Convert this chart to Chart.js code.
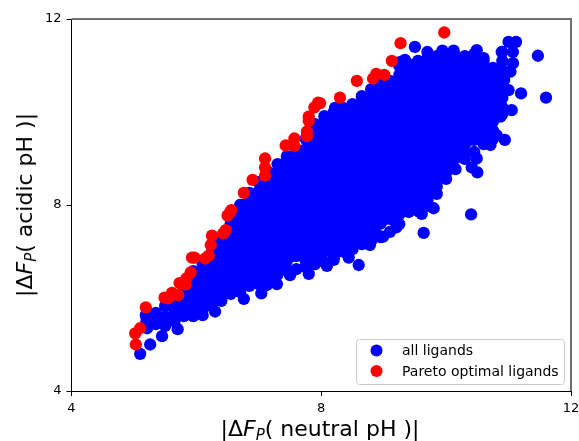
<!DOCTYPE html>
<html>
<head>
<meta charset="utf-8">
<title>Pareto optimal ligands</title>
<script src="https://cdn.jsdelivr.net/npm/chart.js@4"></script>
<style>
  html, body { margin: 0; padding: 0; background: #fff; }
  #wrap { position: relative; width: 579px; height: 441px; overflow: hidden; }
  canvas { position: absolute; left: 0; top: 0; }
  .axis-title { position: absolute; font-family: "DejaVu Sans"; font-size: 22px; line-height: 26px; white-space: nowrap; color: #000; }
  .axis-title sub { font-size: 15px; font-style: italic; line-height: 0; vertical-align: -4px; }
  #xTitle { left: 320px; top: 416px; transform: translateX(-50%); }
  #yTitle { left: 25px; top: 205px; transform: translate(-50%, -50%) rotate(-90deg); }
</style>
</head>
<body>
<div id="wrap">
  <canvas id="toolChart" width="579" height="441"></canvas>
  <div class="axis-title" id="xTitle">|Δ<i>F</i><sub>P</sub>( neutral pH )|</div>
  <div class="axis-title" id="yTitle">|Δ<i>F</i><sub>P</sub>( acidic pH )|</div>
</div>
<script>
// values: the dense cloud is kept as columns of y values
const cloudX = [5.2, 5.35, 5.5, 5.65, 5.8, 5.95, 6.1, 6.25, 6.4, 6.55, 6.7, 6.85, 7.0, 7.15, 7.3, 7.45, 7.6, 7.75, 7.9, 8.05, 8.2, 8.35, 8.5, 8.65, 8.8, 8.95, 9.1, 9.25, 9.4, 9.55, 9.7, 9.85, 10.0, 10.15, 10.3, 10.45, 10.6, 10.75, 10.9];
const cloudY = [
  [5.5],
  [5.44, 5.56, 5.68],
  [5.4, 5.6, 5.83],
  [5.5, 5.7, 5.85, 5.98],
  [5.61, 5.8, 6.0, 6.15],
  [5.7, 5.9, 6.1, 6.3, 6.45, 6.58],
  [5.74, 5.9, 6.1, 6.3, 6.5, 6.73],
  [5.83, 6.0, 6.2, 6.4, 6.6, 6.8, 7.0, 7.16],
  [5.94, 6.1, 6.3, 6.5, 6.7, 6.9, 7.1, 7.29],
  [6.09, 6.2, 6.4, 6.6, 6.8, 7.0, 7.2, 7.4, 7.6, 7.72],
  [6.13, 6.3, 6.5, 6.7, 6.9, 7.1, 7.3, 7.5, 7.7, 7.9, 8.0],
  [6.26, 6.4, 6.6, 6.8, 7.0, 7.2, 7.4, 7.6, 7.8, 8.0, 8.2, 8.26],
  [6.3, 6.5, 6.7, 6.9, 7.1, 7.3, 7.5, 7.7, 7.9, 8.1, 8.3, 8.49],
  [6.41, 6.6, 6.8, 7.0, 7.2, 7.4, 7.6, 7.8, 8.0, 8.2, 8.4, 8.6, 8.71],
  [6.5, 6.7, 6.9, 7.1, 7.3, 7.5, 7.7, 7.9, 8.1, 8.3, 8.5, 8.7, 8.88],
  [6.6, 6.8, 7.0, 7.2, 7.4, 7.6, 7.8, 8.0, 8.2, 8.4, 8.6, 8.8, 9.0, 9.05],
  [6.62, 6.9, 7.1, 7.3, 7.5, 7.7, 7.9, 8.1, 8.3, 8.5, 8.7, 8.9, 9.1, 9.2],
  [6.67, 6.8, 7.0, 7.2, 7.4, 7.6, 7.8, 8.0, 8.2, 8.4, 8.6, 8.8, 9.0, 9.2, 9.42],
  [6.73, 6.9, 7.1, 7.3, 7.5, 7.7, 7.9, 8.1, 8.3, 8.5, 8.7, 8.9, 9.1, 9.3, 9.5, 9.74],
  [6.77, 7.0, 7.2, 7.4, 7.6, 7.8, 8.0, 8.2, 8.4, 8.6, 8.8, 9.0, 9.2, 9.4, 9.6, 9.8, 9.91],
  [6.82, 6.9, 7.1, 7.3, 7.5, 7.7, 7.9, 8.1, 8.3, 8.5, 8.7, 8.9, 9.1, 9.3, 9.5, 9.7, 9.9, 10.0],
  [7.0, 7.2, 7.4, 7.6, 7.8, 8.0, 8.2, 8.4, 8.6, 8.8, 9.0, 9.2, 9.4, 9.6, 9.8, 10.0, 10.09],
  [7.05, 7.3, 7.5, 7.7, 7.9, 8.1, 8.3, 8.5, 8.7, 8.9, 9.1, 9.3, 9.5, 9.7, 9.9, 10.1, 10.17],
  [7.16, 7.4, 7.6, 7.8, 8.0, 8.2, 8.4, 8.6, 8.8, 9.0, 9.2, 9.4, 9.6, 9.8, 10.0, 10.2, 10.34],
  [7.23, 7.5, 7.7, 7.9, 8.1, 8.3, 8.5, 8.7, 8.9, 9.1, 9.3, 9.5, 9.7, 9.9, 10.1, 10.3, 10.49],
  [7.31, 7.6, 7.8, 8.0, 8.2, 8.4, 8.6, 8.8, 9.0, 9.2, 9.4, 9.6, 9.8, 10.0, 10.2, 10.4, 10.6],
  [7.42, 7.7, 7.9, 8.1, 8.3, 8.5, 8.7, 8.9, 9.1, 9.3, 9.5, 9.7, 9.9, 10.1, 10.3, 10.5, 10.67],
  [7.59, 7.8, 8.0, 8.2, 8.4, 8.6, 8.8, 9.0, 9.2, 9.4, 9.6, 9.8, 10.0, 10.2, 10.4, 10.6, 10.8, 10.99],
  [7.85, 8.1, 8.3, 8.5, 8.7, 8.9, 9.1, 9.3, 9.5, 9.7, 9.9, 10.1, 10.3, 10.5, 10.7, 10.9, 11.03],
  [7.87, 8.0, 8.2, 8.4, 8.6, 8.8, 9.0, 9.2, 9.4, 9.6, 9.8, 10.0, 10.2, 10.4, 10.6, 10.8, 11.0, 11.1],
  [7.98, 8.1, 8.3, 8.5, 8.7, 8.9, 9.1, 9.3, 9.5, 9.7, 9.9, 10.1, 10.3, 10.5, 10.7, 10.9, 11.1, 11.16],
  [8.24, 8.4, 8.6, 8.8, 9.0, 9.2, 9.4, 9.6, 9.8, 10.0, 10.2, 10.4, 10.6, 10.8, 11.0, 11.2],
  [8.56, 8.7, 8.9, 9.1, 9.3, 9.5, 9.7, 9.9, 10.1, 10.3, 10.5, 10.7, 10.9, 11.1, 11.2],
  [8.77, 9.0, 9.2, 9.4, 9.6, 9.8, 10.0, 10.2, 10.4, 10.6, 10.8, 11.0, 11.2],
  [8.99, 9.1, 9.3, 9.5, 9.7, 9.9, 10.1, 10.3, 10.5, 10.7, 10.9, 11.1, 11.2],
  [9.14, 9.4, 9.6, 9.8, 10.0, 10.2, 10.4, 10.6, 10.8, 11.0, 11.2, 11.25],
  [9.31, 9.5, 9.7, 9.9, 10.1, 10.3, 10.5, 10.7, 10.9, 11.1, 11.16],
  [9.42, 9.6, 9.8, 10.0, 10.2, 10.4, 10.6, 10.8, 10.95],
  [9.96, 10.1, 10.3, 10.5, 10.7, 10.9, 11.1, 11.29]
];

// more of the cloud, between the columns above
const denseX = [5.875, 6.025, 6.175, 6.325, 6.475, 6.625, 6.775, 6.925, 7.075, 7.225, 7.375, 7.525, 7.675, 7.825, 7.975, 8.125, 8.275, 8.425, 8.575, 8.725, 8.875, 9.025, 9.175, 9.325, 9.475, 9.625, 9.775, 9.925, 10.075, 10.225, 10.375, 10.525, 10.675, 10.825];
const denseY = [
  [5.9, 6.1, 6.3],
  [5.9, 6.1, 6.3, 6.5],
  [6.0, 6.2, 6.4, 6.6, 6.8],
  [6.1, 6.3, 6.5, 6.7, 6.9, 7.1],
  [6.2, 6.4, 6.6, 6.8, 7.0, 7.2, 7.4],
  [6.3, 6.5, 6.7, 6.9, 7.1, 7.3, 7.5, 7.7],
  [6.4, 6.6, 6.8, 7.0, 7.2, 7.4, 7.6, 7.8, 8.0],
  [6.5, 6.7, 6.9, 7.1, 7.3, 7.5, 7.7, 7.9, 8.1],
  [6.6, 6.8, 7.0, 7.2, 7.4, 7.6, 7.8, 8.0, 8.2, 8.4],
  [6.7, 6.9, 7.1, 7.3, 7.5, 7.7, 7.9, 8.1, 8.3, 8.5],
  [6.8, 7.0, 7.2, 7.4, 7.6, 7.8, 8.0, 8.2, 8.4, 8.6, 8.8],
  [6.9, 7.1, 7.3, 7.5, 7.7, 7.9, 8.1, 8.3, 8.5, 8.7, 8.9],
  [7.0, 7.2, 7.4, 7.6, 7.8, 8.0, 8.2, 8.4, 8.6, 8.8, 9.0],
  [6.9, 7.1, 7.3, 7.5, 7.7, 7.9, 8.1, 8.3, 8.5, 8.7, 8.9, 9.1, 9.3],
  [7.0, 7.2, 7.4, 7.6, 7.8, 8.0, 8.2, 8.4, 8.6, 8.8, 9.0, 9.2, 9.4, 9.6],
  [7.1, 7.3, 7.5, 7.7, 7.9, 8.1, 8.3, 8.5, 8.7, 8.9, 9.1, 9.3, 9.5, 9.7],
  [7.0, 7.2, 7.4, 7.6, 7.8, 8.0, 8.2, 8.4, 8.6, 8.8, 9.0, 9.2, 9.4, 9.6, 9.8],
  [7.1, 7.3, 7.5, 7.7, 7.9, 8.1, 8.3, 8.5, 8.7, 8.9, 9.1, 9.3, 9.5, 9.7, 9.9],
  [7.2, 7.4, 7.6, 7.8, 8.0, 8.2, 8.4, 8.6, 8.8, 9.0, 9.2, 9.4, 9.6, 9.8, 10.0],
  [7.3, 7.5, 7.7, 7.9, 8.1, 8.3, 8.5, 8.7, 8.9, 9.1, 9.3, 9.5, 9.7, 9.9, 10.1],
  [7.4, 7.6, 7.8, 8.0, 8.2, 8.4, 8.6, 8.8, 9.0, 9.2, 9.4, 9.6, 9.8, 10.0, 10.2],
  [7.7, 7.9, 8.1, 8.3, 8.5, 8.7, 8.9, 9.1, 9.3, 9.5, 9.7, 9.9, 10.1, 10.3],
  [7.8, 8.0, 8.2, 8.4, 8.6, 8.8, 9.0, 9.2, 9.4, 9.6, 9.8, 10.0, 10.2, 10.4, 10.6],
  [7.9, 8.1, 8.3, 8.5, 8.7, 8.9, 9.1, 9.3, 9.5, 9.7, 9.9, 10.1, 10.3, 10.5, 10.7],
  [8.0, 8.2, 8.4, 8.6, 8.8, 9.0, 9.2, 9.4, 9.6, 9.8, 10.0, 10.2, 10.4, 10.6, 10.8],
  [8.1, 8.3, 8.5, 8.7, 8.9, 9.1, 9.3, 9.5, 9.7, 9.9, 10.1, 10.3, 10.5, 10.7, 10.9],
  [8.4, 8.6, 8.8, 9.0, 9.2, 9.4, 9.6, 9.8, 10.0, 10.2, 10.4, 10.6, 10.8, 11.0],
  [8.7, 8.9, 9.1, 9.3, 9.5, 9.7, 9.9, 10.1, 10.3, 10.5, 10.7, 10.9],
  [9.0, 9.2, 9.4, 9.6, 9.8, 10.0, 10.2, 10.4, 10.6, 10.8, 11.0],
  [9.1, 9.3, 9.5, 9.7, 9.9, 10.1, 10.3, 10.5, 10.7, 10.9],
  [9.4, 9.6, 9.8, 10.0, 10.2, 10.4, 10.6, 10.8, 11.0],
  [9.5, 9.7, 9.9, 10.1, 10.3, 10.5, 10.7, 10.9],
  [9.6, 9.8, 10.0, 10.2, 10.4, 10.6, 10.8],
  [10.1, 10.3, 10.5, 10.7, 10.9]
];

// stray points around the edge of the cloud
const strayX = [5.1, 5.26, 5.45, 5.7, 5.19, 5.21, 5.95, 6.1, 6.3, 6.76, 7.04, 7.13, 7.29, 7.5, 7.8, 8.09, 8.44, 8.6, 8.78, 8.99, 9.2, 9.61, 9.8, 9.64, 10.4, 10.41, 10.5, 10.49, 10.71, 10.81, 10.94, 10.87, 11.05, 11.2, 11.0, 10.93, 11.03, 11.07, 11.07, 10.89, 11.0, 11.12, 11.47, 11.6, 10.49, 10.12, 9.94, 9.7, 9.5, 9.34, 9.27, 8.22];
const strayY = [4.8, 5.0, 5.18, 5.33, 5.63, 5.35, 5.61, 5.63, 5.71, 5.98, 6.1, 6.28, 6.3, 6.49, 6.52, 6.69, 6.87, 6.71, 7.14, 7.32, 7.52, 7.81, 7.93, 7.4, 7.8, 8.81, 8.7, 9.0, 9.29, 9.5, 9.4, 9.9, 10.04, 10.4, 10.47, 10.69, 10.87, 11.05, 11.29, 11.29, 11.51, 11.51, 11.21, 10.31, 11.33, 11.32, 11.32, 11.29, 11.4, 11.12, 11.08, 10.09];

const paretoX = [5.03, 5.02, 5.1, 5.19, 5.49, 5.55, 5.61, 5.71, 5.73, 5.83, 5.84, 5.91, 5.93, 5.97, 6.14, 6.2, 6.23, 6.25, 6.43, 6.47, 6.5, 6.54, 6.56, 6.76, 6.9, 7.1, 7.1, 7.1, 7.43, 7.57, 7.57, 7.77, 7.77, 7.8, 7.8, 7.89, 7.95, 7.98, 8.3, 8.57, 8.83, 8.88, 9.01, 9.13, 9.27, 9.97];
const paretoY = [5.0, 5.24, 5.35, 5.8, 6.01, 5.99, 6.11, 6.06, 6.32, 6.29, 6.42, 6.55, 6.87, 6.87, 6.85, 6.91, 7.14, 7.34, 7.39, 7.46, 7.77, 7.84, 7.89, 8.26, 8.54, 8.63, 8.81, 9.0, 9.28, 9.27, 9.43, 9.48, 9.58, 9.81, 9.9, 10.1, 10.2, 10.19, 10.31, 10.67, 10.72, 10.82, 10.8, 11.1, 11.48, 11.71];

const axisTicks = [4, 8, 12];
const seriesLabels = ['all ligands', 'Pareto optimal ligands'];

const columnPoints = (xs, ys) => xs.flatMap((x, i) => ys[i].map(y => ({ x: x, y: y })));
const allLigands = columnPoints(cloudX, cloudY)
  .concat(columnPoints(denseX, denseY))
  .concat(strayX.map((x, i) => ({ x: x, y: strayY[i] })));
const paretoLigands = paretoX.map((x, i) => ({ x: x, y: paretoY[i] }));

// top and right spines plus the legend box inside the axes
const framePlugin = {
  id: 'frame',
  afterDraw(chart) {
    const { ctx, chartArea: a } = chart;
    ctx.save();
    ctx.strokeStyle = '#707070';
    ctx.lineWidth = 2;
    ctx.beginPath();
    ctx.moveTo(a.left, a.top);
    ctx.lineTo(a.right, a.top);
    ctx.lineTo(a.right, a.bottom);
    ctx.stroke();

    ctx.lineWidth = 1;
    ctx.fillStyle = 'rgba(255,255,255,0.8)';
    ctx.strokeStyle = '#ccc';
    ctx.beginPath();
    ctx.roundRect(356.5, 339.5, 208, 45, 3);
    ctx.fill();
    ctx.stroke();

    ctx.font = '14px "DejaVu Sans"';
    ctx.textBaseline = 'alphabetic';
    chart.data.datasets.forEach((ds, i) => {
      const y = 350.5 + i * 20.5;
      ctx.fillStyle = ds.backgroundColor;
      ctx.beginPath();
      ctx.arc(376.5, y, 6, 0, Math.PI * 2);
      ctx.fill();
      ctx.fillStyle = '#000';
      ctx.fillText(ds.label, 402, y + 4.5);
    });
    ctx.restore();
  }
};

function axisOptions(afterFit) {
  return {
    type: 'linear',
    min: 4,
    max: 12,
    afterFit: afterFit,
    afterBuildTicks(scale) { scale.ticks = axisTicks.map(v => ({ value: v })); },
    grid: { drawOnChartArea: false, color: '#000', tickLength: 5, tickColor: '#000' },
    border: { color: '#000', width: 1 },
    ticks: { color: '#000', padding: 5, maxRotation: 0, font: { family: 'DejaVu Sans', size: 13 } }
  };
}

new Chart(document.getElementById('toolChart'), {
  type: 'scatter',
  data: {
    datasets: [
      { label: seriesLabels[0], data: allLigands, backgroundColor: '#0000ff', borderColor: '#0000ff', pointRadius: 6.15, borderWidth: 0, order: 2 },
      { label: seriesLabels[1], data: paretoLigands, backgroundColor: '#ff0000', borderColor: '#ff0000', pointRadius: 6.15, borderWidth: 0, order: 1 }
    ]
  },
  options: {
    responsive: false,
    animation: false,
    layout: { padding: { top: 19, right: 8, left: 0, bottom: 0 } },
    plugins: { legend: { display: false }, tooltip: { enabled: false } },
    scales: {
      x: axisOptions(s => { s.height = 50; s.paddingLeft = 0; s.paddingRight = 0; }),
      y: axisOptions(s => { s.width = 71.5; s.paddingTop = 0; s.paddingBottom = 0; })
    }
  },
  plugins: [framePlugin]
});
</script>
</body>
</html>
